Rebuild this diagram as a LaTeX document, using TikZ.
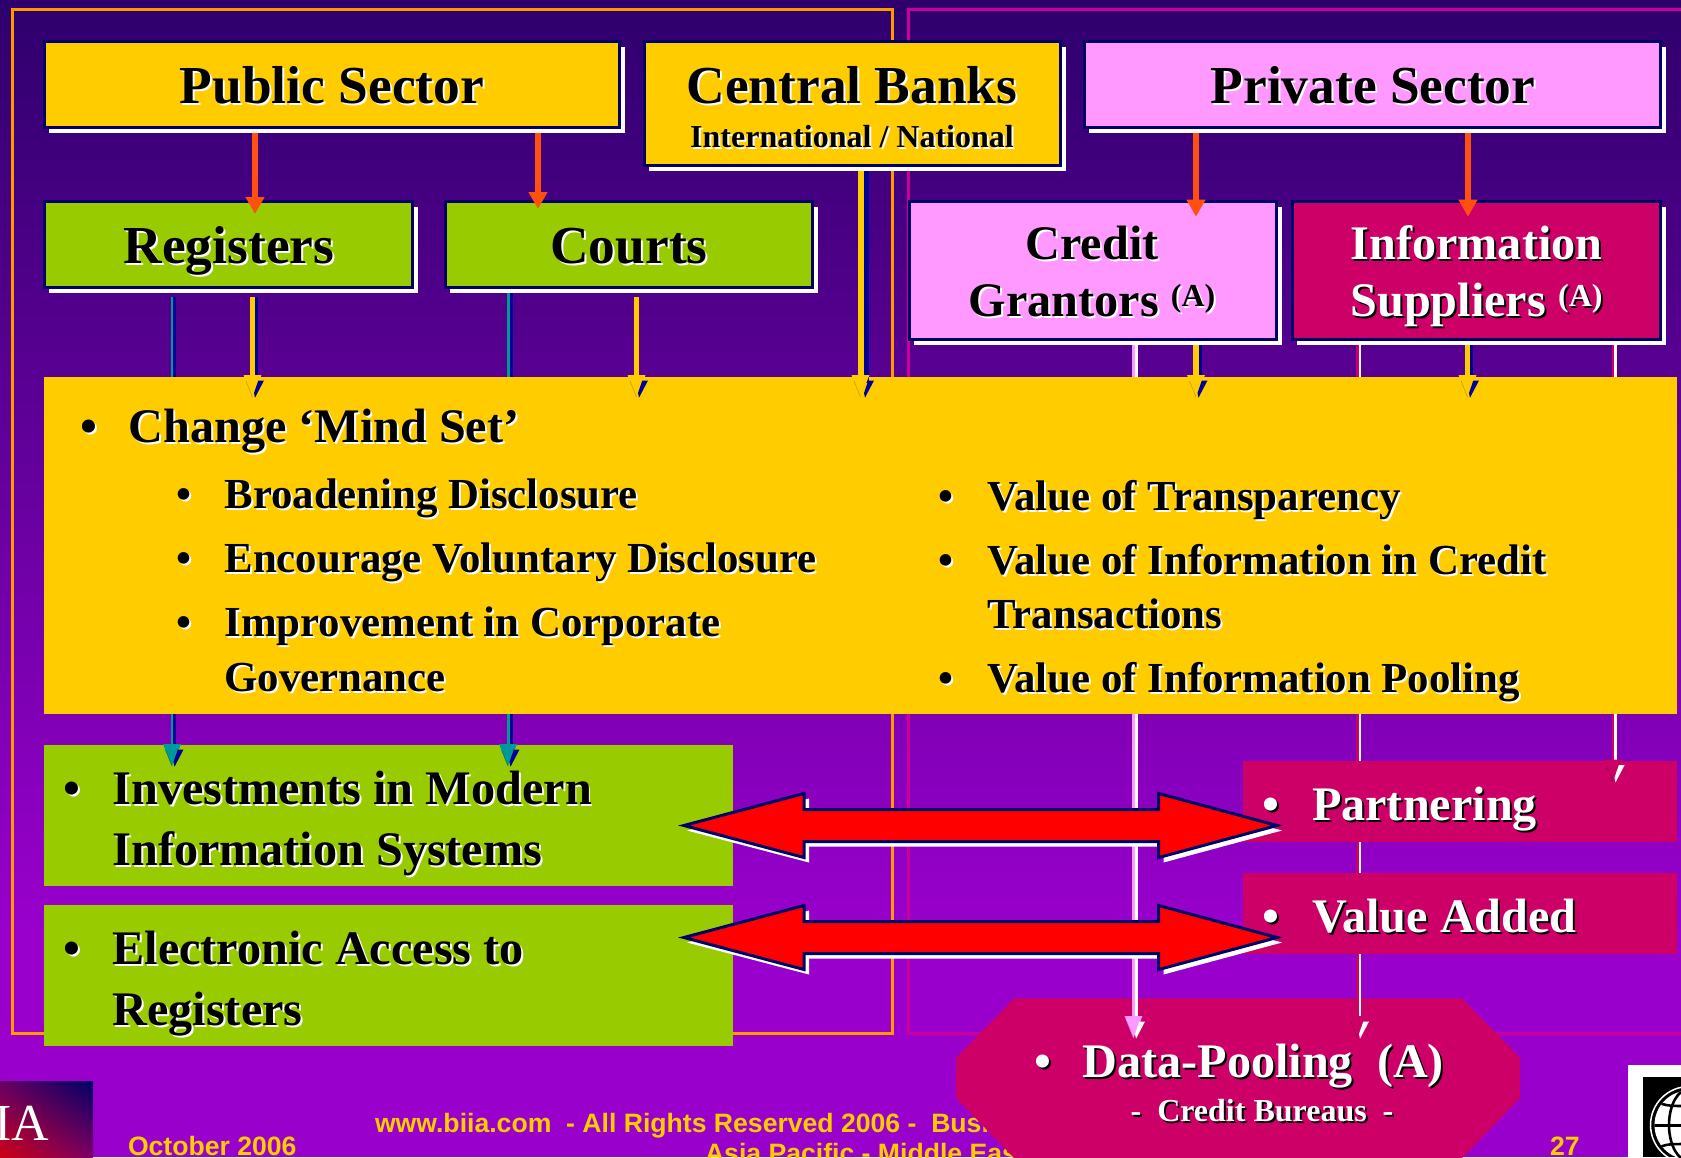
\documentclass[tikz,border=0pt]{standalone}
\usepackage{fontspec}
\setmainfont{Liberation Serif}
\newfontfamily\footfont{Liberation Sans}
\usetikzlibrary{arrows.meta,shadings}
\definecolor{navyb}{HTML}{000066}
\definecolor{blues}{HTML}{000099}
\definecolor{yel}{HTML}{FFCC00}
\definecolor{grn}{HTML}{99CC00}
\definecolor{pnk}{HTML}{FF99FF}
\definecolor{crim}{HTML}{CC0066}
\definecolor{redor}{HTML}{FF5010}
\definecolor{teal2}{HTML}{009999}
\definecolor{framea}{HTML}{FF9900}
\definecolor{frameb}{HTML}{CC0099}
\definecolor{bgtop}{HTML}{2E006C}
\definecolor{bgbot}{HTML}{9900CC}
\tikzset{
  boxb/.style={draw=navyb,line width=3pt,anchor=north west,inner sep=0pt,outer sep=0pt},
  panel/.style={anchor=north west,inner sep=0pt,outer sep=0pt},
  lab/.style={inner sep=0pt,outer sep=0pt,anchor=base},
  labl/.style={inner sep=0pt,outer sep=0pt,anchor=base west},
  big/.style={font=\fontsize{53.4}{53.4}\selectfont\bfseries},
  mid/.style={font=\fontsize{48.2}{48.2}\selectfont\bfseries},
  sub/.style={font=\fontsize{42.8}{42.8}\selectfont\bfseries},
  sml/.style={font=\fontsize{32}{32}\selectfont\bfseries},
  foot/.style={inner sep=0pt,outer sep=0pt,anchor=base west,text=yel,font=\footfont\fontsize{26.6}{26.6}\selectfont\bfseries},
  dwn/.style={redor,line width=5.5pt,-{Triangle[length=17pt,width=18pt]}},
  dbl/.style={fill=red,draw=navyb,line width=3pt,line join=miter},
}
\newcommand\shd[2]{{\rlap{\raisebox{-2pt}[0pt][0pt]{\kern2pt\textcolor{#2}{#1}}}#1}}
% name, fill, x0, y0, x1, y1
\newcommand\mybox[6]{%
  \pgfmathsetmacro\bw{#5-#3}\pgfmathsetmacro\bh{#6-#4}%
  \fill[white] (#3+4.5,#4+5) rectangle (#5+5.5,#6+5.5);
  \node[boxb,fill=#2,minimum width=\bw pt,minimum height=\bh pt] (#1) at (#3,#4) {};}
\newcommand\mypanel[6]{%
  \pgfmathsetmacro\bw{#5-#3}\pgfmathsetmacro\bh{#6-#4}%
  \node[panel,fill=#2,minimum width=\bw pt,minimum height=\bh pt] (#1) at (#3,#4) {};}
% colour, shadow, width, line offset, from, tip, head offset
\newcommand\conn[7]{%
  \draw[#2,line width=#3pt] ([shift={(#4,0)}]#5) -- ([shift={(#4,-14)}]#6);
  \draw[#1,line width=#3pt] (#5) -- ([shift={(0,-14)}]#6);
  \begin{scope}[shift={(#6)}]
    \fill[#1] (-9,-22) -- (9,-22) -- (0,0) -- cycle;
    \draw[#1!75!black,line width=0.5pt] (-6.5,-16) -- (0,0);
    \fill[#2] (#7+2.8,-16.5) -- (#7+8.5,-16.5) -- (#7-0.5,0.7) -- (#7-1.5,-4) -- cycle;
  \end{scope}}
\begin{document}
\begin{tikzpicture}[x=1pt,y=-1pt]
\useasboundingbox (0,0) rectangle (1681,1157);
\clip (0,0) rectangle (1681,1157);
% background
\shade[top color=bgtop,bottom color=bgbot] (0,0) rectangle (1681,930);
\fill[bgbot] (0,930) rectangle (1681,1157);
% frames
\draw[framea,line width=3pt] (12,9.5) rectangle (892.5,1033);
\draw[frameb,line width=3pt] (908.5,9.5) rectangle (1700,1033);
% footer
\node[foot] (fdate) at (128,1155.5) {October 2006};
\node[foot] (fl1) at (375,1132.7) {www.biia.com\ \ - All Rights Reserved 2006 -\ \ Business};
\node[foot] (fl2) at (705,1162.5) {Asia Pacific - Middle East};
\node[foot] (fnum) at (1550,1155.5) {27};
% BIIA logo
\shade[upper right=navyb,lower left=red!80!navyb,upper left=crim!50!navyb,lower right=crim!60!navyb] (0,1081) rectangle (93,1157);
\node[inner sep=0pt,outer sep=0pt,anchor=base east,text=white,font=\fontsize{52}{52}\selectfont] (flogo) at (49,1140) {IA};
% globe logo
\fill[white] (1628,1065) rectangle (1690,1157);
\fill[black] (1643,1077) rectangle (1690,1157);
\begin{scope}
  \draw[white,line width=1.5pt] (1689,1125) circle[radius=38.5];
  \fill[white] (1689,1125) circle[radius=34.5];
  \begin{scope}
    \clip (1689,1125) circle[radius=34.5];
    \draw[black,line width=2.6pt] (1689,1125) ellipse[x radius=20,y radius=36];
    \draw[black,line width=2.6pt] (1689,1089) -- (1689,1161);
    \draw[black,line width=3pt] (1650,1125) -- (1689,1125);
    \draw[black,line width=2.6pt] (1650,1098) .. controls (1665,1106) .. (1689,1106);
    \draw[black,line width=2.6pt] (1650,1152) .. controls (1665,1144) .. (1689,1144);
  \end{scope}
\end{scope}
% data pooling octagon
\fill[crim] (1014,998.3) -- (1462,998.3) -- (1520,1058) -- (1520,1098) -- (1462,1158) -- (1014,1158) -- (956,1098) -- (956,1058) -- cycle;
% connectors that run behind the lower panels
\coordinate (cga) at (1133.5,344);
\coordinate (cgt) at (1133.5,1038);
\conn{pnk}{white}{3}{3}{cga}{cgt}{3}
\coordinate (isa) at (1357.5,344);
\coordinate (ist) at (1357.5,1038);
\conn{crim}{white}{2.5}{2.5}{isa}{ist}{3}
\mypanel{partn}{crim}{1243}{761}{1677}{841.7}
\mypanel{valad}{crim}{1243}{873}{1677}{953.7}
\coordinate (isb) at (1613,344);
\coordinate (isc) at (1613,781.7);
\conn{crim}{white}{2.5}{2.5}{isb}{isc}{3}
\mypanel{inv}{grn}{44}{745}{733}{885.7}
\mypanel{elec}{grn}{44}{905}{733}{1045.7}
\coordinate (rega) at (172,297);
\coordinate (regt) at (172,766);
\conn{teal2}{blues}{2.8}{2.8}{rega}{regt}{3}
\coordinate (cta) at (508,293);
\coordinate (ctt) at (508,766);
\conn{teal2}{blues}{3}{3}{cta}{ctt}{3}
% main panel
\mypanel{mainp}{yel}{44}{377}{1677}{713.7}
% yellow connectors
\coordinate (y1a) at (252.5,297);
\coordinate (y1t) at (252.5,397);
\conn{yel}{blues}{5.5}{3}{y1a}{y1t}{3}
\coordinate (y2a) at (636.5,297);
\coordinate (y2t) at (636.5,397);
\conn{yel}{blues}{5.5}{0}{y2a}{y2t}{3}
\coordinate (y3a) at (860.5,171);
\coordinate (y3t) at (860.5,397);
\conn{yel}{blues}{6}{5}{y3a}{y3t}{5}
\coordinate (y4a) at (1196,344);
\coordinate (y4t) at (1196,397);
\conn{yel}{blues}{5.5}{3}{y4a}{y4t}{3}
\coordinate (y5a) at (1467.5,344);
\coordinate (y5t) at (1467.5,397);
\conn{yel}{blues}{5.5}{3}{y5a}{y5t}{3}
% boxes
\mybox{pub}{yel}{44.5}{41.5}{619.5}{127.5}
\mybox{cen}{yel}{644.5}{41.5}{1060}{165.5}
\mybox{pri}{pnk}{1084.5}{41.5}{1660}{127.5}
\mybox{reg}{grn}{44.5}{201.5}{412}{287}
\mybox{crt}{grn}{445}{201.5}{812}{287}
\mybox{crg}{pnk}{909}{201.5}{1276.5}{339}
\mybox{inf}{crim}{1292.5}{201.5}{1660}{339}
% red-orange arrows
\draw[dwn] (255,133) coordinate (pa1) -- (255,214) coordinate (pt1);
\draw[dwn] (538,133) coordinate (pa2) -- (538,209) coordinate (pt2);
\draw[dwn] (1196,133) coordinate (pa3) -- (1196,216.7) coordinate (pt3);
\draw[dwn] (1468,133) coordinate (pa4) -- (1468,216.7) coordinate (pt4);
% double arrows
\foreach \yc/\dn in {825.5/da,937.5/db}{
  \begin{scope}[shift={(0,\yc)}]
    \fill[white] (687,5) -- (809,-27) -- (809,-10.5) -- (1163.5,-10.5) -- (1163.5,-27) -- (1282,5) -- (1163.5,37) -- (1163.5,21) -- (809,21) -- (809,37) -- cycle;
    \draw[dbl] (684,0) -- (804,-32) -- (804,-16) -- (1158.7,-16) -- (1158.7,-32) -- (1277,0) -- (1158.7,32) -- (1158.7,16) -- (804,16) -- (804,32) -- cycle;
  \end{scope}
}
% titles
\node[lab,big] (tpub) at (332,103.5) {\shd{Public Sector}{white}};
\node[lab,big] (tcen) at (852,103.5) {\shd{Central Banks}{white}};
\node[lab,sml] (tint) at (852,147) {\shd{International / National}{white}};
\node[lab,big] (tpri) at (1373,103.5) {\shd{Private Sector}{white}};
\node[lab,big] (treg) at (229,263.5) {\shd{Registers}{white}};
\node[lab,big] (tcrt) at (629,263.5) {\shd{Courts}{white}};
\node[lab,mid] (tcr1) at (1092,259) {\shd{Credit}{white}};
\node[lab,mid] (tcr2) at (1092,316) {\shd{Grantors \raisebox{10pt}{\fontsize{32}{32}\selectfont(A)}}{white}};
\node[lab,mid,text=white] (tin1) at (1476.5,259) {\shd{Information}{black}};
\node[lab,mid,text=white] (tin2) at (1476.5,316) {\shd{Suppliers \raisebox{10pt}{\fontsize{32}{32}\selectfont(A)}}{black}};
% main panel text
\node[lab,mid] (b0) at (88.5,442) {\shd{•}{white}};
\node[labl,mid] (m0) at (128.5,442) {\shd{Change ‘Mind Set’}{white}};
\node[lab,sub] (b1) at (184,508) {\shd{•}{white}};
\node[labl,sub] (m1) at (224.5,508) {\shd{Broadening Disclosure}{white}};
\node[lab,sub] (b2) at (184,572) {\shd{•}{white}};
\node[labl,sub] (m2) at (224.5,572) {\shd{Encourage Voluntary Disclosure}{white}};
\node[lab,sub] (b3) at (184,636.7) {\shd{•}{white}};
\node[labl,sub] (m3) at (224.5,636.7) {\shd{Improvement in Corporate}{white}};
\node[labl,sub] (m3b) at (224.5,691.7) {\shd{Governance}{white}};
\node[lab,sub] (r1b) at (946,510.7) {\shd{•}{white}};
\node[labl,sub] (r1) at (987.5,510.7) {\shd{Value of Transparency}{white}};
\node[lab,sub] (r2b) at (946,574) {\shd{•}{white}};
\node[labl,sub] (r2) at (987.5,574) {\shd{Value of Information in Credit}{white}};
\node[labl,sub] (r2c) at (987.5,628.5) {\shd{Transactions}{white}};
\node[lab,sub] (r3b) at (946,692) {\shd{•}{white}};
\node[labl,sub] (r3) at (987.5,692) {\shd{Value of Information Pooling}{white}};
% green panel text
\node[lab,mid] (g1b) at (72,804) {\shd{•}{white}};
\node[labl,mid] (g1) at (112.5,804) {\shd{Investments in Modern}{white}};
\node[labl,mid] (g1c) at (112.5,865) {\shd{Information Systems}{white}};
\node[lab,mid] (g2b) at (72,964) {\shd{•}{white}};
\node[labl,mid] (g2) at (112.5,964) {\shd{Electronic Access to}{white}};
\node[labl,mid] (g2c) at (112.5,1025) {\shd{Registers}{white}};
% crimson panel text
\node[lab,mid,text=white] (c1b) at (1271,820) {\shd{•}{black}};
\node[labl,mid,text=white] (c1) at (1312,820) {\shd{Partnering}{black}};
\node[lab,mid,text=white] (c2b) at (1271,932) {\shd{•}{black}};
\node[labl,mid,text=white] (c2) at (1312,932) {\shd{Value Added}{black}};
\node[lab,mid,text=white] (c3b) at (1042.5,1077) {\shd{•}{black}};
\node[labl,mid,text=white] (c3) at (1082.5,1077) {\shd{Data-Pooling\ \ (A)}{black}};
\node[lab,sml,text=white] (c4) at (1262,1121) {\shd{-\ \ Credit Bureaus\ \ -}{black}};
\end{tikzpicture}
\end{document}
